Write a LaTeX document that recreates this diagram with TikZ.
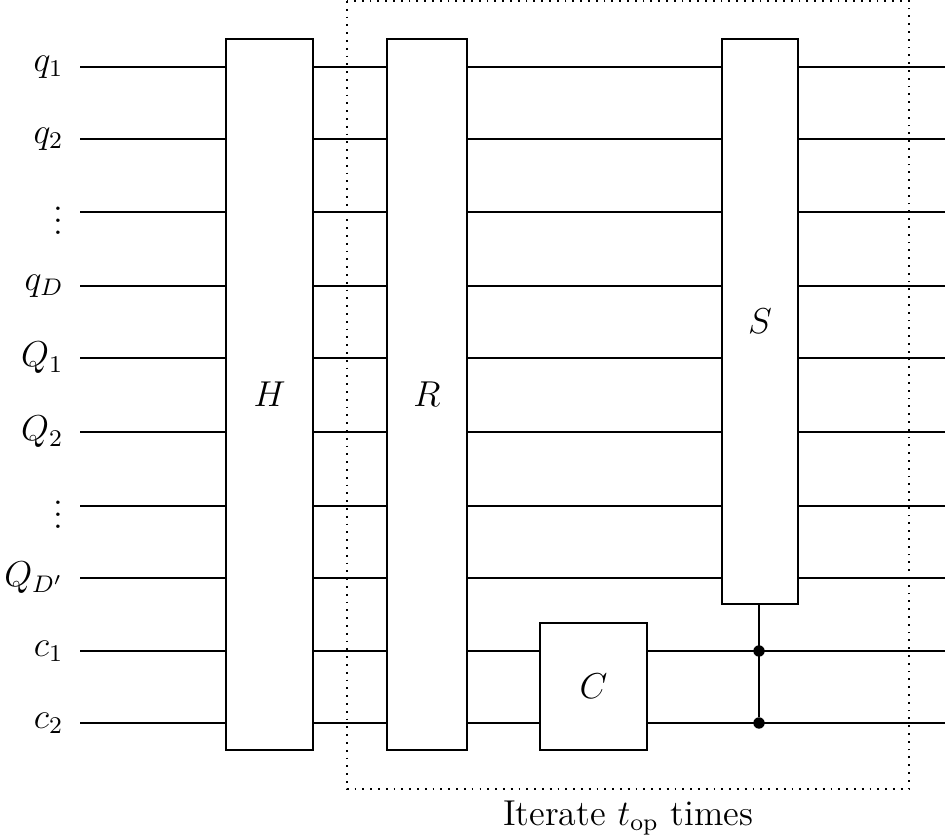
\documentclass[tikz,border=0pt]{standalone}
\begin{document}
\begin{tikzpicture}[x=0.3333pt,y=-0.3333pt,font=\large,
  gate/.style={draw,fill=white,line width=0.6pt},
  wire/.style={line width=0.6pt},
  ctrl/.style={circle,fill=black,inner sep=0pt,minimum size=3.8pt}]
\useasboundingbox (0,0) rectangle (945,840);
\draw[dotted,line width=0.6pt] (347,1) rectangle (909,789);
\foreach \y/\l [count=\i] in {67/q_1,139/q_2,212/\vdots,286/q_D,358/Q_1,432/Q_2,506/\vdots,578/Q_{D'},651/c_1,723/c_2}{
  \coordinate (w\i) at (945,\y);
  \node[anchor=east,inner sep=0pt] (l\i) at (64,\y) {$\l$};
  \draw[wire] (80,\y) -- (w\i);
}
\node[gate,minimum width=29pt,minimum height=237pt] (H) at (269.5,394.5) {$H$};
\node[gate,minimum width=26.7pt,minimum height=237pt] (R) at (427,394.5) {$R$};
\node[gate,minimum width=25.3pt,minimum height=188.3pt] (S) at (760,321.5) {$S$};
\node[gate,minimum width=35.7pt,minimum height=42.3pt] (C) at (593.5,686.5) {$C$};
\node[ctrl] (d1) at (759,651) {};
\node[ctrl] (d2) at (759,723) {};
\draw[wire] (S.south -| d1) -- (d2);
\node (it) at (628,818) {Iterate $t_{\mathrm{op}}$ times};
\end{tikzpicture}
\end{document}
